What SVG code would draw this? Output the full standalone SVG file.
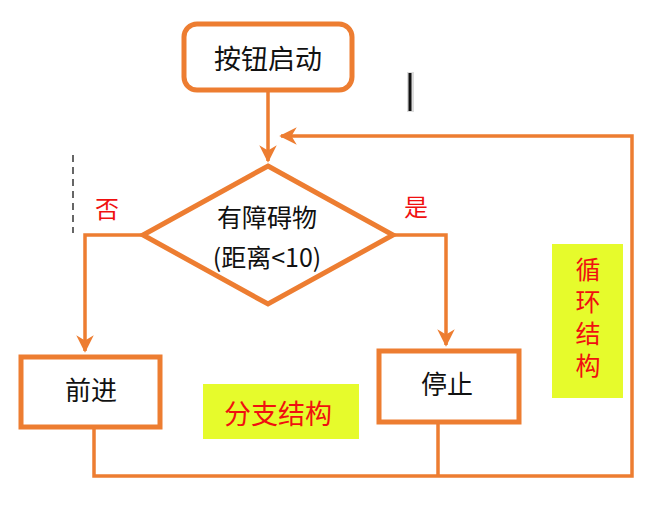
<svg xmlns="http://www.w3.org/2000/svg" width="667" height="508" viewBox="0 0 667 508">
<style>
.box{fill:#fff;stroke:#ED7D31;stroke-width:5}
.ln{fill:none;stroke:#ED7D31;stroke-width:3.5}
.t{font-family:"Noto Sans CJK SC","Liberation Sans",sans-serif;fill:#111;text-anchor:middle}
.r{font-family:"Noto Sans CJK SC",sans-serif;fill:#f01010;text-anchor:middle}
.y{fill:#e6fb2c}
</style>
<defs>
<marker id="ah" viewBox="0 0 10 10" refX="9" refY="5" markerWidth="5" markerHeight="5" markerUnits="strokeWidth" orient="auto">
<path d="M0,0 L10,5 L0,10 L3,5 Z" fill="#ED7D31"/>
</marker>
</defs>
<rect width="667" height="508" fill="#fff"/>
<g id="artifacts">
<rect x="407" y="72" width="7" height="40" fill="#ddd"/>
<line x1="410" y1="73" x2="410" y2="111" stroke="#111" stroke-width="3"/>
<line x1="73" y1="155" x2="73" y2="233" stroke="#666" stroke-width="2" stroke-dasharray="7,5"/>
</g>
<g id="connectors">
<line class="ln" x1="268" y1="92" x2="268" y2="161" marker-end="url(#ah)"/>
<polyline class="ln" points="143,235 85,235 85,351" marker-end="url(#ah)"/>
<polyline class="ln" points="393,235 446,235 446,345" marker-end="url(#ah)"/>
<polyline class="ln" stroke-width="3" points="94,428 94,476 632,476 632,136 281,136" marker-end="url(#ah)"/>
<line class="ln" stroke-width="3" x1="438" y1="422" x2="438" y2="476"/>
</g>
<g id="start">
<rect class="box" x="184" y="24" width="168" height="66" rx="13"/>
<text class="t" x="268" y="69" font-size="27">按钮启动</text>
</g>
<g id="decision">
<polygon class="box" points="268,166 393,235 268,304 143,235"/>
<text class="t" x="267" y="227" font-size="25">有障碍物</text>
<text class="t" x="267" y="267" font-size="25">(距离&lt;10)</text>
</g>
<g id="no-label"><text class="r" x="107" y="218" font-size="24">否</text></g>
<g id="yes-label"><text class="r" x="416" y="216" font-size="24">是</text></g>
<g id="forward">
<rect class="box" x="21" y="357" width="139" height="70"/>
<text class="t" x="91" y="400" font-size="26">前进</text>
</g>
<g id="stop">
<rect class="box" x="379" y="351" width="140" height="71"/>
<text class="t" x="447" y="394" font-size="26">停止</text>
</g>
<g id="branch-label">
<rect class="y" x="203" y="384" width="156" height="55"/>
<text class="r" x="278" y="424" font-size="27">分支结构</text>
</g>
<g id="loop-label">
<rect class="y" x="552" y="244" width="71" height="154"/>
<text class="r" x="588" y="257" font-size="25" style="writing-mode:vertical-rl;text-anchor:start" letter-spacing="7">循环结构</text>
</g>
</svg>
